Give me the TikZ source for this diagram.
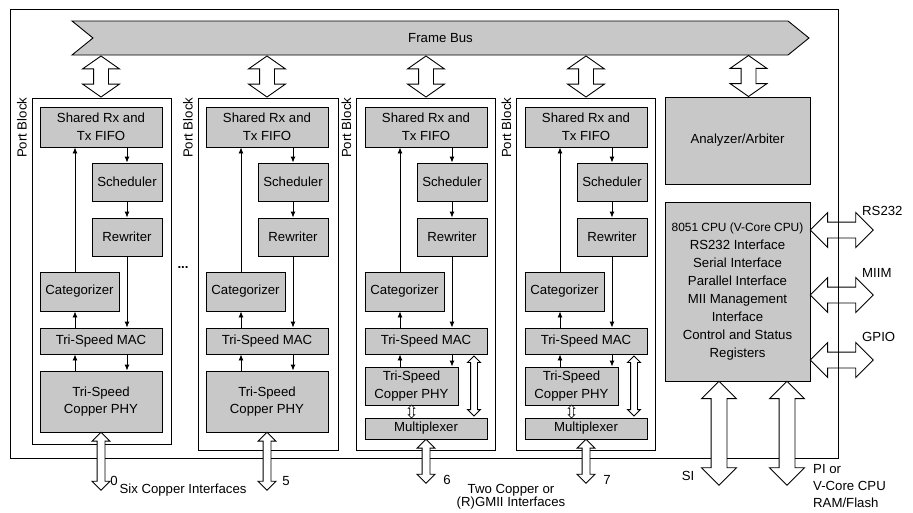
\documentclass[tikz,border=0pt]{standalone}
\usepackage{fontspec}
\setmainfont{Liberation Sans}
\usepackage{tikz}
\usetikzlibrary{arrows,arrows.meta,positioning,calc}
\usetikzlibrary{shapes,shapes.arrows,shapes.symbols}
\definecolor{boxgray}{RGB}{200,200,200}
\tikzset{
  box/.style={rectangle, draw, fill=boxgray, line width=0.9pt, inner sep=0pt, align=center},
  portblk/.style={rectangle, draw, line width=0.9pt, inner sep=0pt},
  portlbl/.style={rotate=90, anchor=base east, inner sep=0pt},
  flow/.style={line width=0.9pt, -{Latex[length=6pt,width=5pt]}},
  bigarrow/.style={double arrow, draw, fill=white, line width=0.9pt, minimum width=0pt, double arrow tip angle=90},
  busarrow/.style={bigarrow, inner sep=7pt, double arrow head extend=11pt, double arrow tip angle=110, shape border rotate=90},
  pinarrow/.style={bigarrow, inner sep=3.5pt, double arrow head extend=5pt, shape border rotate=90},
  midarrow/.style={bigarrow, inner sep=3pt, double arrow head extend=3pt, shape border rotate=90},
  tinyarrow/.style={bigarrow, line width=0.6pt, inner sep=1.5pt, double arrow head extend=1.5pt, shape border rotate=90},
  cpuarrow/.style={bigarrow, inner sep=7.5pt, double arrow head extend=9.5pt}
}

\begin{document}
\begin{tikzpicture}[x=1pt, y=-1pt, font=\fontsize{13.2pt}{17.5pt}\selectfont]
\useasboundingbox (0,0) rectangle (913,512);
\draw[line width=0.9pt] (10,9) rectangle (838,458);
\node at (440.5,38) [signal, signal to=east, signal from=west, signal pointer angle=78, draw, fill=boxgray, line width=0.9pt, minimum width=737pt, minimum height=34pt, inner sep=0pt] (bus) {Frame Bus};

% port block 0
\node at (101.5,271) [portblk, minimum width=139pt, minimum height=346pt] (B1) {};
\node at ([xshift=-5pt]B1.north west) [portlbl] (L1) {Port Block};
\node at (101,127) [box, minimum width=122pt, minimum height=40pt] (F1) {Shared Rx and\\Tx FIFO};
\node at (127,182) [box, minimum width=70pt, minimum height=38pt] (S1) {Scheduler};
\node at (127,237) [box, minimum width=70pt, minimum height=38pt] (R1) {Rewriter};
\node at (79.5,291.5) [box, minimum width=79pt, minimum height=39pt] (C1) {Categorizer};
\node at (101,341) [box, minimum width=122pt, minimum height=26pt] (M1) {Tri-Speed MAC};
\node at (101,401.5) [box, minimum width=122pt, minimum height=61pt] (P1) {Tri-Speed\\Copper PHY};
\draw[flow] (S1.north |- F1.south) -- (S1.north);
\draw[flow] (S1.south) -- (R1.north);
\draw[flow] (R1.south) -- (R1.south |- M1.north);
\draw[flow] (R1.south |- M1.south) -- (R1.south |- P1.north);
\draw[flow] ([xshift=-4.5pt]C1.north) -- ([xshift=-4.5pt]C1.north |- F1.south);
\draw[flow] ([xshift=-4.5pt]C1.south |- M1.north) -- ([xshift=-4.5pt]C1.south);
\draw[flow] ([xshift=-4.5pt]C1.south |- P1.north) -- ([xshift=-4.5pt]C1.south |- M1.south);

% port block 5
\node at (268,274) [portblk, minimum width=140pt, minimum height=352pt] (B2) {};
\node at ([xshift=-5pt]B2.north west) [portlbl] (L2) {Port Block};
\node at (267,127) [box, minimum width=122pt, minimum height=40pt] (F2) {Shared Rx and\\Tx FIFO};
\node at (293,182) [box, minimum width=70pt, minimum height=38pt] (S2) {Scheduler};
\node at (293,237) [box, minimum width=70pt, minimum height=38pt] (R2) {Rewriter};
\node at (245.5,291.5) [box, minimum width=79pt, minimum height=39pt] (C2) {Categorizer};
\node at (267,341) [box, minimum width=122pt, minimum height=26pt] (M2) {Tri-Speed MAC};
\node at (267,401.5) [box, minimum width=122pt, minimum height=61pt] (P2) {Tri-Speed\\Copper PHY};
\draw[flow] (S2.north |- F2.south) -- (S2.north);
\draw[flow] (S2.south) -- (R2.north);
\draw[flow] (R2.south) -- (R2.south |- M2.north);
\draw[flow] (R2.south |- M2.south) -- (R2.south |- P2.north);
\draw[flow] ([xshift=-4.5pt]C2.north) -- ([xshift=-4.5pt]C2.north |- F2.south);
\draw[flow] ([xshift=-4.5pt]C2.south |- M2.north) -- ([xshift=-4.5pt]C2.south);
\draw[flow] ([xshift=-4.5pt]C2.south |- P2.north) -- ([xshift=-4.5pt]C2.south |- M2.south);

% port block 6
\node at (426,274) [portblk, minimum width=139pt, minimum height=352pt] (B3) {};
\node at ([xshift=-5pt]B3.north west) [portlbl] (L3) {Port Block};
\node at (426,127) [box, minimum width=122pt, minimum height=40pt] (F3) {Shared Rx and\\Tx FIFO};
\node at (452,182) [box, minimum width=70pt, minimum height=38pt] (S3) {Scheduler};
\node at (452,237) [box, minimum width=70pt, minimum height=38pt] (R3) {Rewriter};
\node at (404.5,291.5) [box, minimum width=79pt, minimum height=39pt] (C3) {Categorizer};
\node at (426,341) [box, minimum width=122pt, minimum height=26pt] (M3) {Tri-Speed MAC};
\node at (411.5,386) [box, minimum width=93pt, minimum height=38pt] (P3) {Tri-Speed\\Copper PHY};
\node at (426,428.5) [box, minimum width=122pt, minimum height=21pt] (X3) {Multiplexer};
\draw[flow] (S3.north |- F3.south) -- (S3.north);
\draw[flow] (S3.south) -- (R3.north);
\draw[flow] (R3.south) -- (R3.south |- M3.north);
\draw[flow] (R3.south |- M3.south) -- (R3.south |- P3.north);
\draw[flow] ([xshift=-4.5pt]C3.north) -- ([xshift=-4.5pt]C3.north |- F3.south);
\draw[flow] ([xshift=-4.5pt]C3.south |- M3.north) -- ([xshift=-4.5pt]C3.south);
\draw[flow] ([xshift=-4.5pt]C3.south |- P3.north) -- ([xshift=-4.5pt]C3.south |- M3.south);
\node at ($(P3.south)!0.5!(P3.south |- X3.north)$) [tinyarrow, minimum height=13pt] (m3) {};
\node at ($([xshift=48pt]M3.south)!0.5!([xshift=48pt]X3.north)$) [midarrow, minimum height=60pt] (t3) {};

% port block 7
\node at (586,274) [portblk, minimum width=139pt, minimum height=352pt] (B4) {};
\node at ([xshift=-5pt]B4.north west) [portlbl] (L4) {Port Block};
\node at (586,127) [box, minimum width=122pt, minimum height=40pt] (F4) {Shared Rx and\\Tx FIFO};
\node at (612,182) [box, minimum width=70pt, minimum height=38pt] (S4) {Scheduler};
\node at (612,237) [box, minimum width=70pt, minimum height=38pt] (R4) {Rewriter};
\node at (564.5,291.5) [box, minimum width=79pt, minimum height=39pt] (C4) {Categorizer};
\node at (586,341) [box, minimum width=122pt, minimum height=26pt] (M4) {Tri-Speed MAC};
\node at (571.5,386) [box, minimum width=93pt, minimum height=38pt] (P4) {Tri-Speed\\Copper PHY};
\node at (586,428.5) [box, minimum width=122pt, minimum height=21pt] (X4) {Multiplexer};
\draw[flow] (S4.north |- F4.south) -- (S4.north);
\draw[flow] (S4.south) -- (R4.north);
\draw[flow] (R4.south) -- (R4.south |- M4.north);
\draw[flow] (R4.south |- M4.south) -- (R4.south |- P4.north);
\draw[flow] ([xshift=-4.5pt]C4.north) -- ([xshift=-4.5pt]C4.north |- F4.south);
\draw[flow] ([xshift=-4.5pt]C4.south |- M4.north) -- ([xshift=-4.5pt]C4.south);
\draw[flow] ([xshift=-4.5pt]C4.south |- P4.north) -- ([xshift=-4.5pt]C4.south |- M4.south);
\node at ($(P4.south)!0.5!(P4.south |- X4.north)$) [tinyarrow, minimum height=13pt] (m4) {};
\node at ($([xshift=48pt]M4.south)!0.5!([xshift=48pt]X4.north)$) [midarrow, minimum height=60pt] (t4) {};

\node at (183,268) (dots) {\textbf{...}};

% analyzer and cpu
\node at (737.5,140.5) [box, minimum width=145pt, minimum height=87pt] (arb) {Analyzer/Arbiter};
\node at (737.5,291.5) [box, minimum width=145pt, minimum height=179pt, font=\fontsize{13.2pt}{18pt}\selectfont] (cpu) {{\fontsize{11.9pt}{18pt}\selectfont 8051 CPU (V-Core CPU)}\\RS232 Interface\\Serial Interface\\Parallel Interface\\MII Management\\Interface\\Control and Status\\Registers};

% frame bus links
\node at ($(F1 |- bus.south)!0.5!(F1 |- B1.north)$) [busarrow, minimum height=41pt] (a1) {};
\node at ($(F2 |- bus.south)!0.5!(F2 |- B2.north)$) [busarrow, minimum height=41pt] (a2) {};
\node at ($(F3 |- bus.south)!0.5!(F3 |- B3.north)$) [busarrow, minimum height=41pt] (a3) {};
\node at ($(F4 |- bus.south)!0.5!(F4 |- B4.north)$) [busarrow, minimum height=41pt] (a4) {};
\node at ($([xshift=11pt]arb.north |- bus.south)!0.5!([xshift=11pt]arb.north)$) [busarrow, minimum height=41pt] (a5) {};

% interfaces
\coordinate (o0) at (101,490);
\coordinate (o5) at (267,490);
\coordinate (o6) at (426,483);
\coordinate (o7) at (586,483);
\node at ($(P1.south)!0.5!(o0)$) [pinarrow, minimum height=58pt] (i0) {};
\node at ($(P2.south)!0.5!(o5)$) [pinarrow, minimum height=58pt] (i5) {};
\node at ($(X3.south)!0.5!(o6)$) [pinarrow, minimum height=44pt] (i6) {};
\node at ($(X4.south)!0.5!(o7)$) [pinarrow, minimum height=44pt] (i7) {};
\node at (114,481) (n0) {0};
\node at (286,481) (n5) {5};
\node at (447,480) (n6) {6};
\node at (607,480) (n7) {7};
\node at (183,490) (six) {Six Copper Interfaces};
\node at (511,496.5) [align=center, inner sep=0pt, font=\fontsize{13.2pt}{13pt}\selectfont] (two) {Two Copper or\\(R)GMII Interfaces};

\coordinate (rs) at (873,230);
\coordinate (mi) at (873,295);
\coordinate (gp) at (873,360);
\coordinate (si) at (719,485);
\coordinate (pi) at (787,485);
\node at ($(cpu.east |- rs)!0.5!(rs)$) [cpuarrow, minimum height=63pt] (aRS) {};
\node at ($(cpu.east |- mi)!0.5!(mi)$) [cpuarrow, minimum height=63pt] (aMI) {};
\node at ($(cpu.east |- gp)!0.5!(gp)$) [cpuarrow, minimum height=63pt] (aGP) {};
\node at ($(cpu.south -| si)!0.5!(si)$) [cpuarrow, shape border rotate=90, minimum height=104pt] (aSI) {};
\node at ($(cpu.south -| pi)!0.5!(pi)$) [cpuarrow, shape border rotate=90, minimum height=104pt] (aPI) {};
\draw[line width=0.9pt] (838,9) -- (838,458);
\node at (862,211) [anchor=west, inner sep=0pt] (lRS) {RS232};
\node at (862,273) [anchor=west, inner sep=0pt] (lMI) {MIIM};
\node at (862,337) [anchor=west, inner sep=0pt] (lGP) {GPIO};
\node at (688,476) (lSI) {SI};
\node at (813,486) [anchor=west, align=left, inner sep=0pt, font=\fontsize{13.2pt}{17pt}\selectfont] (lPI) {PI or\\V-Core CPU\\RAM/Flash};

\end{tikzpicture}
\end{document}
